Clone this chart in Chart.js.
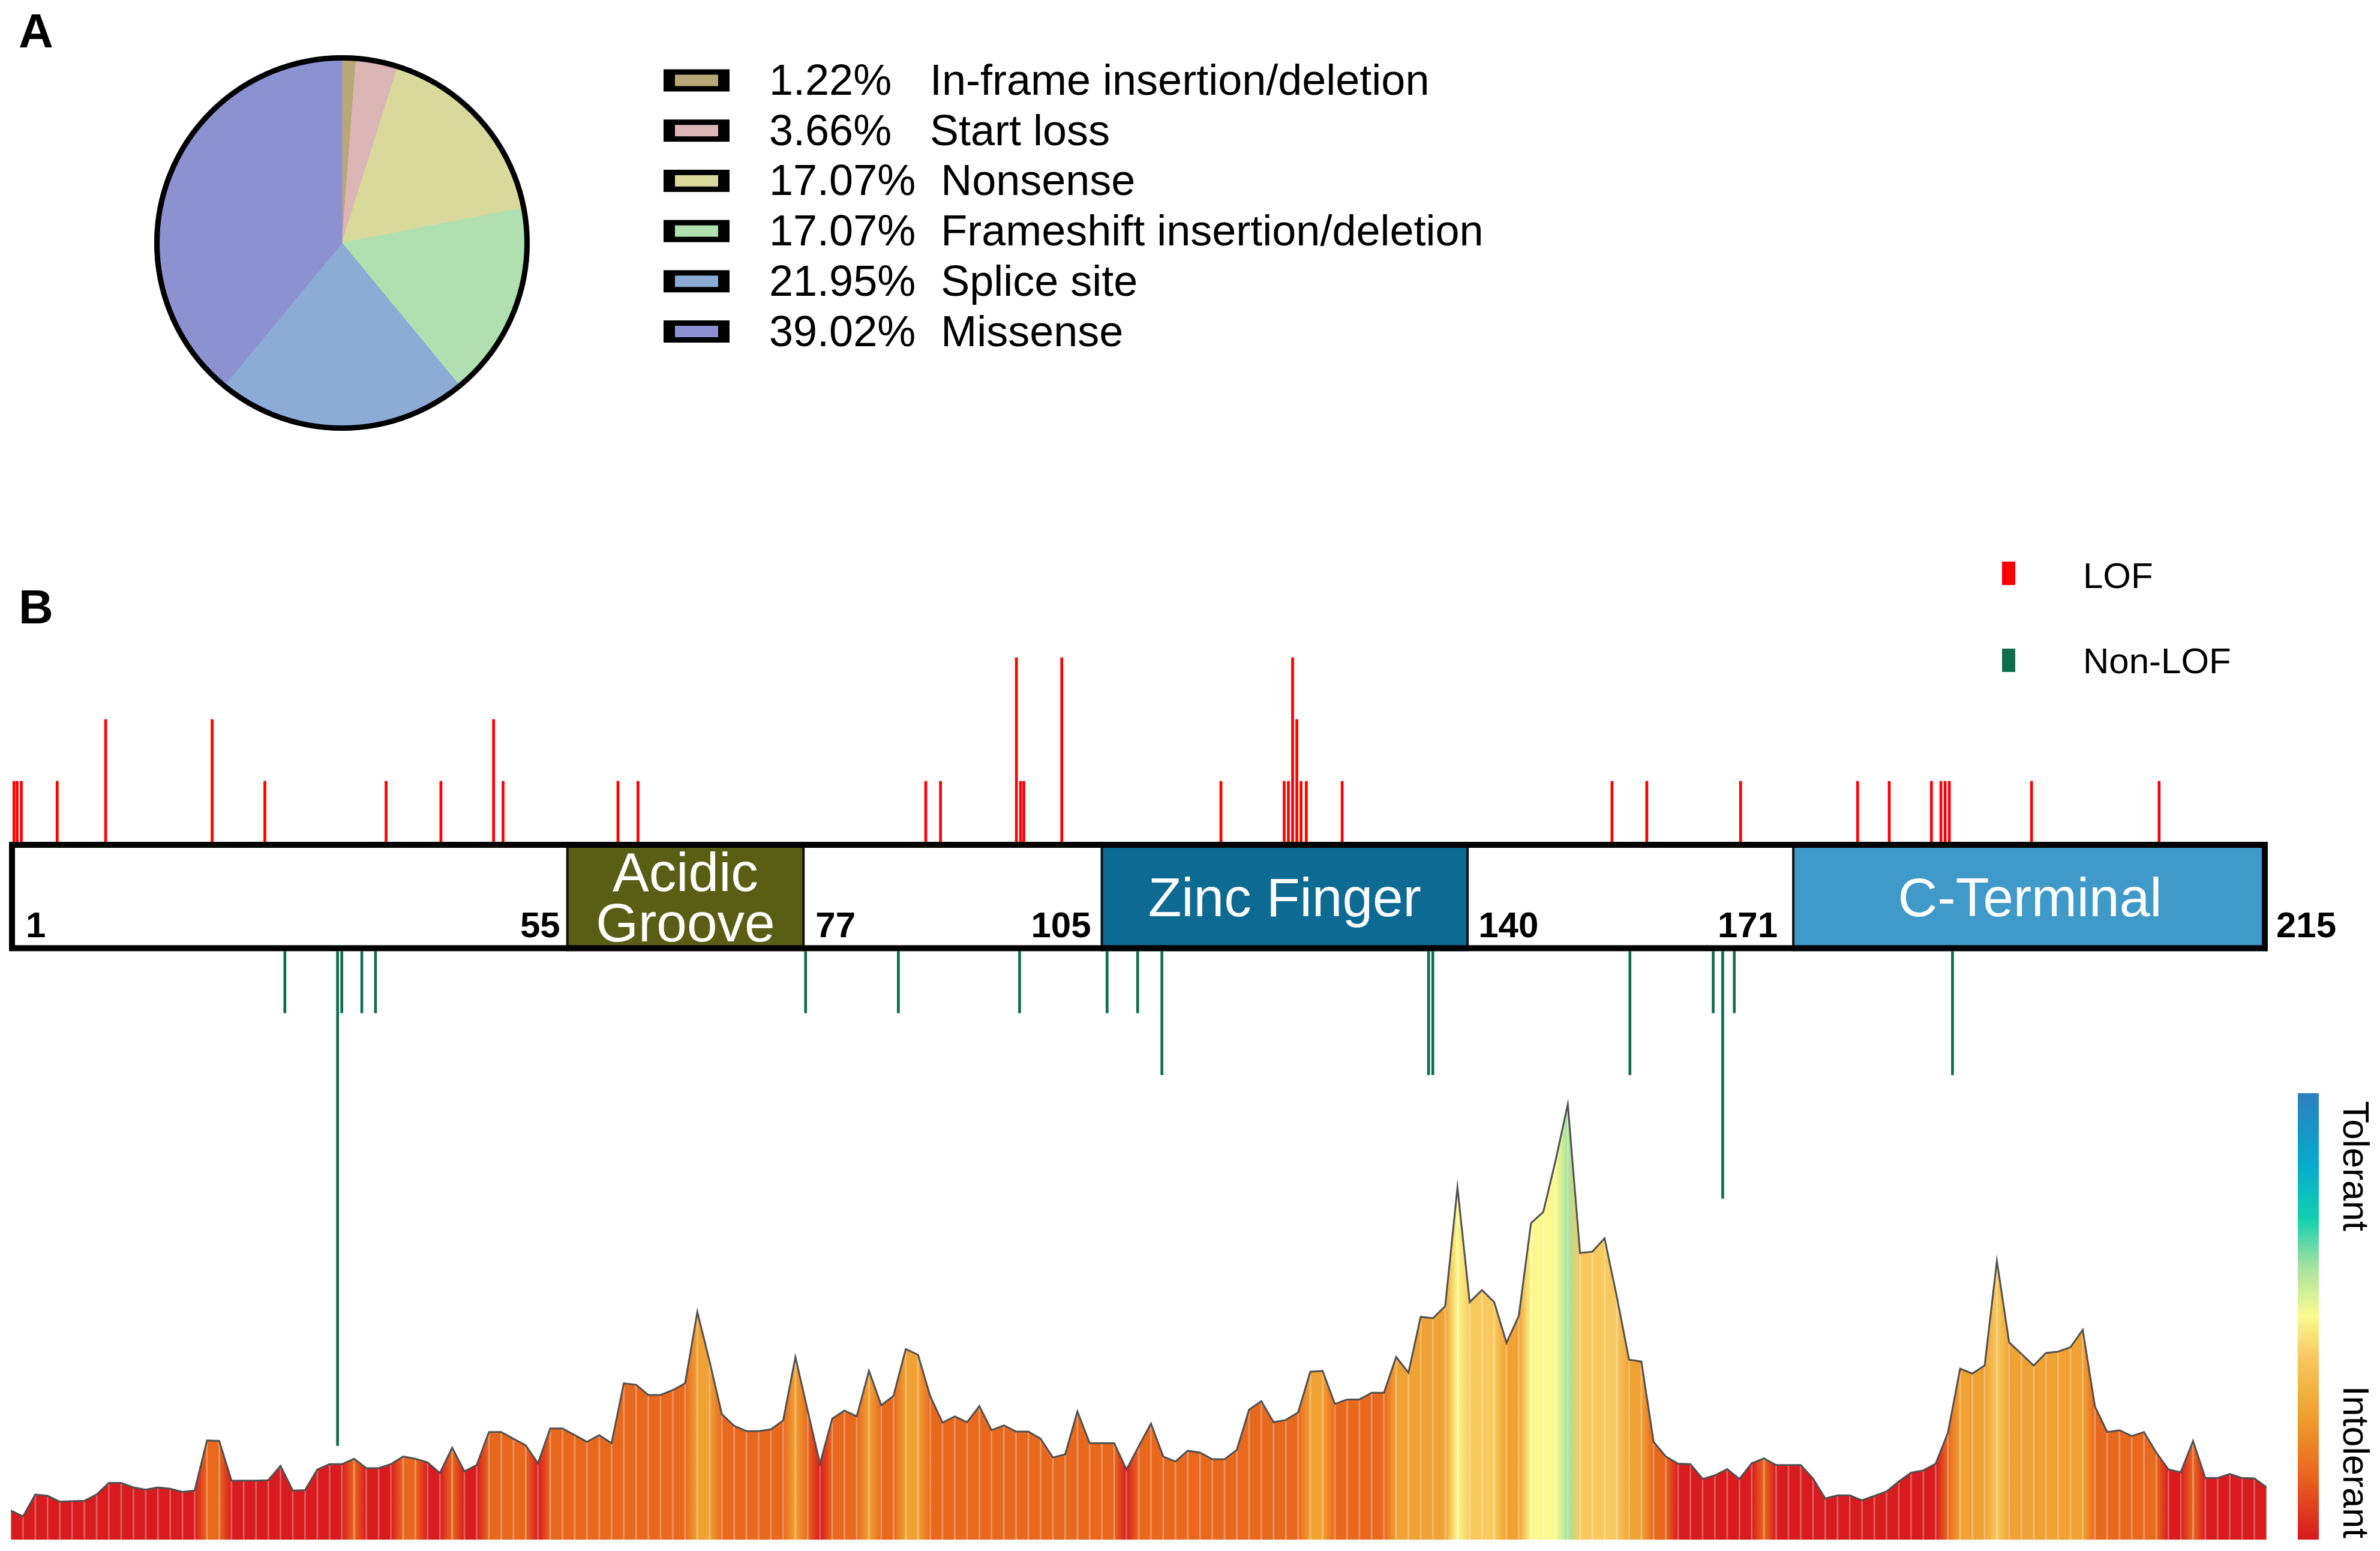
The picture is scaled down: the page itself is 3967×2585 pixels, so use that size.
<!DOCTYPE html>
<html lang="en">
<head>
<meta charset="utf-8">
<title>Variant spectrum and tolerance landscape</title>
<script src="https://cdn.jsdelivr.net/npm/chart.js@4.4.1/dist/chart.umd.min.js"></script>
<style>
  html, body { margin: 0; padding: 0; background: #fff; }
  #page { position: relative; width: 3967px; height: 2585px; overflow: hidden; background: #fff; }
  #page canvas { position: absolute; left: 0; }
  .panel-tag { position: absolute; left: 31px; font: bold 80px 'Liberation Sans', Arial, sans-serif; line-height: 80px; color: #000; }
</style>
</head>
<body>
<div id="page">
  <div class="panel-tag" style="top: 12px;">A</div>
  <div class="panel-tag" style="top: 972px;">B</div>
  <canvas id="pie" width="2600" height="760" style="top:0; width:2600px; height:760px;"></canvas>
  <canvas id="landscape" width="3967" height="785" style="top:1800px; width:3967px; height:785px;"></canvas>
  <canvas id="sites" width="3967" height="1575" style="top:890px; width:3967px; height:1575px;"></canvas>
</div>
<script>
/* ── data ─────────────────────────────────────────────────── */

/* panel A: variant classes */
const variantTypes = ['In-frame insertion/deletion', 'Start loss', 'Nonsense',
                      'Frameshift insertion/deletion', 'Splice site', 'Missense'];
const variantShare = [1.22, 3.66, 17.07, 17.07, 21.95, 39.02];

/* panel B: residue positions and number of variants per site */
const lofSites  = [1.3, 1.6, 2.0, 5.4, 10.0, 20.1, 25.1, 36.6, 41.8, 46.8,
                   47.7, 58.6, 60.5, 87.8, 89.2, 96.4, 96.8, 97.1, 100.7, 115.8,
                   121.8, 122.2, 122.6, 123.0, 123.4, 123.9, 127.3, 152.9, 156.2, 165.1,
                   176.2, 179.2, 183.2, 184.1, 184.5, 184.9, 192.7, 204.8];
const lofCounts = [1, 1, 1, 1, 2, 2, 1, 1, 1, 2,
                   1, 1, 1, 1, 1, 3, 1, 1, 3, 1,
                   1, 1, 3, 2, 1, 1, 1, 1, 1, 1,
                   1, 1, 1, 1, 1, 1, 1, 1];

const nonLofSites  = [27.0, 32.0, 32.4, 34.3, 35.6, 76.4, 85.2, 96.7, 105.0, 107.9,
                      110.2, 135.5, 135.9, 154.6, 162.5, 163.4, 164.5, 185.2];
const nonLofCounts = [1, 8, 1, 1, 1, 1, 1, 1, 1, 1,
                      2, 2, 2, 2, 1, 4, 1, 2];

/* protein domains (residues) */
const proteinStart = 1;
const proteinEnd   = 215;
const domainNames  = ['Acidic\nGroove', 'Zinc Finger', 'C-Terminal'];
const domainStart  = [53.8, 104.5, 170.1];
const domainEnd    = [76.2, 139.2, 215];
const siteTicks    = ['1', '55', '77', '105', '140', '171', '215'];

/* tolerance landscape, 185 evenly spaced windows along the protein */
const toleranceScores = [
   6.5,  5.2, 10.1,  9.8,  8.5,  8.6,  8.7, 10.1, 12.7, 12.7,
  11.7, 11.2, 11.7, 11.4, 10.7, 11.0, 22.2, 22.1, 13.2, 13.2,
  13.2, 13.3, 16.5, 11.0, 11.1, 15.7, 16.9, 16.9, 18.1, 16.0,
  16.0, 16.9, 18.6, 18.1, 17.3, 14.9, 20.6,
  15.3, 16.7, 24.1, 24.1, 22.6, 21.1, 17.1, 24.9, 24.9, 23.4,
  21.9, 23.4, 21.6, 35.0, 34.7, 32.4, 32.4, 33.5, 35.0, 51.0,
  39.9, 28.1, 25.5, 24.3, 24.3, 24.7, 26.7, 40.9, 28.9, 17.0,
  27.1, 28.9, 27.6, 37.8, 30.1, 32.2, 42.7,
  41.4, 32.1, 26.2, 27.6, 26.3, 29.9, 24.5, 25.6, 24.2, 24.2,
  22.6, 18.4, 19.1, 28.7, 21.6, 21.6, 21.6, 15.7, 20.9, 26.0,
  18.6, 17.5, 19.9, 19.5, 18.0, 18.0, 20.1, 29.1, 31.0, 26.3,
  26.8, 28.5, 37.6, 37.8, 30.4, 31.4, 31.4,
  32.9, 32.9, 40.9, 37.4, 49.9, 49.6, 52.3, 78.9, 53.2, 55.9,
  53.2, 44.1, 50.1, 70.9, 73.4, 84.9, 97.5, 64.2, 64.5, 67.5,
  54.4, 40.3, 39.9, 21.9, 18.6, 17.0, 16.9, 13.6, 14.4, 15.8,
  13.6, 17.1, 18.2, 16.7, 16.7, 16.7, 13.7,
   9.2,  9.9,  9.9,  8.8,  9.8, 10.8, 13.0, 15.0, 15.5, 17.0,
  23.9, 38.3, 37.2, 39.0, 62.4, 44.2, 41.6, 39.0, 41.8, 42.1,
  43.1, 47.0, 29.8, 24.1, 24.5, 23.2, 24.1, 19.5, 15.7, 15.1,
  22.1, 13.8, 13.8, 14.7, 13.8, 13.7, 11.7
];
const toleranceBreaks = [17.4, 36.5, 52.5, 68, 90];

/* ── styles ───────────────────────────────────────────────── */

const FONT = "'Liberation Sans', Arial, sans-serif";
const variantColours = ['#b8a878', '#dcb5b5', '#d9d99c', '#b0dfb0', '#8cabd5', '#8c91d0'];
const domainColours  = ['#5a5e14', '#0d6a93', '#3f99c9'];
const LOF_RED    = '#ff0000';
const NONLOF_GRN = '#0e6d4d';
const classColours = ['#d81b1e', '#e8691e', '#f1a234', '#f8c95e', '#fbf98e', '#a6e3a0'];
const barStops = [
  [0.00, '#d7191c'], [0.14, '#e8641e'], [0.28, '#f0a030'], [0.41, '#f8c860'],
  [0.50, '#fbfb8e'], [0.61, '#a6e3a0'], [0.72, '#12cfb0'], [0.84, '#08a9cf'], [1.00, '#2b7fc0']
];
const BAR_DEPTH = 1.75;   /* height of the protein bar, in site-count units */

Chart.defaults.font.family = FONT;

(function () {
    'use strict';

    /* ── helpers ─────────────────────────────────────────────── */

    function classColour(v) {
        let k = 0;
        while (k < toleranceBreaks.length && v >= toleranceBreaks[k]) k++;
        return classColours[k];
    }

    const common = {
        responsive: false,
        devicePixelRatio: 1,
        animation: false,
        events: []
    };

    /* ── panel A: pie ─────────────────────────────────────────── */

    const pieRim = {
        id: 'pieRim',
        afterDatasetsDraw(ch) {
            const arc = ch.getDatasetMeta(0).data[0];
            if (!arc) return;
            const { x, y, outerRadius } = arc.getProps(['x', 'y', 'outerRadius'], true);
            const ctx = ch.ctx;
            ctx.save();
            ctx.beginPath();
            ctx.arc(x, y, outerRadius - 4, 0, Math.PI * 2);
            ctx.lineWidth = 9;
            ctx.strokeStyle = '#000';
            ctx.stroke();
            ctx.restore();
        }
    };

    const pieLegend = {
        id: 'pieLegend',
        afterDraw(ch) {
            const ctx = ch.ctx;
            ctx.save();
            ctx.font = `72px ${FONT}`;
            ctx.textBaseline = 'alphabetic';
            ctx.textAlign = 'left';
            variantShare.forEach((pct, i) => {
                const cy = 134 + i * 83.7;
                ctx.fillStyle = '#000';
                ctx.fillRect(1106, cy - 18.5, 110, 37);
                ctx.fillStyle = variantColours[i];
                ctx.fillRect(1106 + 19, cy - 9.5, 110 - 38, 19);
                ctx.fillStyle = '#000';
                const txt = `${pct.toFixed(2)}%`;
                ctx.fillText(txt, 1282, cy + 24);
                const w = ctx.measureText(txt).width;
                ctx.fillText(variantTypes[i], Math.max(1550, 1282 + w + 42), cy + 24);
            });
            ctx.restore();
        }
    };

    new Chart(document.getElementById('pie'), {
        type: 'pie',
        data: {
            labels: variantTypes,
            datasets: [{
                data: variantShare,
                backgroundColor: variantColours,
                borderColor: variantColours,
                borderWidth: 1
            }]
        },
        options: {
            ...common,
            layout: { padding: { left: 257, right: 1717, top: 92, bottom: 42 } },
            plugins: { legend: { display: false }, tooltip: { enabled: false } }
        },
        plugins: [pieRim, pieLegend]
    });

    /* ── panel B: variant sites on the protein ───────────────── */

    const proteinBar = {
        id: 'proteinBar',
        afterDatasetsDraw(ch) {
            const { ctx, scales: { x, y } } = ch;
            const left   = x.getPixelForValue(proteinStart) - 3;
            const right  = x.getPixelForValue(proteinEnd) + 2;
            const top    = y.getPixelForValue(0) - 2;
            const bottom = y.getPixelForValue(-BAR_DEPTH);
            const mid    = (top + bottom) / 2;

            ctx.save();
            ctx.fillStyle = '#fff';
            ctx.fillRect(left, top, right - left, bottom - top);

            const edges = [];
            domainNames.forEach((name, i) => {
                const x0 = x.getPixelForValue(domainStart[i]);
                const x1 = Math.min(x.getPixelForValue(domainEnd[i]), right);
                edges.push(x0, x1);
                ctx.fillStyle = domainColours[i];
                ctx.fillRect(x0, top, x1 - x0, bottom - top);

                ctx.fillStyle = '#fff';
                ctx.font = `91px ${FONT}`;
                ctx.textAlign = 'center';
                ctx.textBaseline = 'alphabetic';
                const lines = name.split('\n');
                lines.forEach((ln, j) => {
                    const by = mid + 33 + (j - (lines.length - 1) / 2) * 84;
                    ctx.fillText(ln, (x0 + x1) / 2, by);
                });
            });

            ctx.strokeStyle = '#111';
            ctx.lineWidth = 4;
            ctx.beginPath();
            edges.forEach(ex => { ctx.moveTo(ex, top); ctx.lineTo(ex, bottom); });
            ctx.stroke();

            ctx.strokeStyle = '#000';
            ctx.lineWidth = 10;
            ctx.strokeRect(left + 5, top + 5, right - left - 10, bottom - top - 10);

            /* residue numbers at the borders of each region */
            const slots = [
                [left + 28, 'left'],
                [x.getPixelForValue(domainStart[0]) - 12, 'right'],
                [x.getPixelForValue(domainEnd[0]) + 20, 'left'],
                [x.getPixelForValue(domainStart[1]) - 18, 'right'],
                [x.getPixelForValue(domainEnd[1]) + 18, 'left'],
                [x.getPixelForValue(domainStart[2]) - 26, 'right'],
                [right + 14, 'left']
            ];
            ctx.fillStyle = '#000';
            ctx.font = `bold 60px ${FONT}`;
            siteTicks.forEach((t, i) => {
                ctx.textAlign = slots[i][1];
                ctx.fillText(t, slots[i][0], bottom - 23);
            });
            ctx.restore();
        }
    };

    const siteLegend = {
        id: 'siteLegend',
        afterDraw(ch) {
            const ctx = ch.ctx;
            const items = [['LOF', LOF_RED, 46, 90], ['Non-LOF', NONLOF_GRN, 191, 232]];
            ctx.save();
            ctx.font = `60px ${FONT}`;
            ctx.textAlign = 'left';
            ctx.textBaseline = 'alphabetic';
            items.forEach(([txt, col, markTop, base]) => {
                ctx.fillStyle = col;
                ctx.fillRect(3337, markTop, 22, 39);
                ctx.fillStyle = '#000';
                ctx.fillText(txt, 3472, base);
            });
            ctx.restore();
        }
    };

    new Chart(document.getElementById('sites'), {
        type: 'bar',
        data: {
            datasets: [
                {
                    label: 'LOF',
                    data: lofSites.map((p, i) => ({ x: p, y: [0, lofCounts[i]] })),
                    backgroundColor: LOF_RED,
                    barThickness: 4,
                    grouped: false
                },
                {
                    label: 'Non-LOF',
                    data: nonLofSites.map((p, i) => ({ x: p, y: [-BAR_DEPTH + 0.02, -BAR_DEPTH - nonLofCounts[i]] })),
                    backgroundColor: NONLOF_GRN,
                    barThickness: 4,
                    grouped: false
                }
            ]
        },
        options: {
            ...common,
            layout: { padding: { left: 18, right: 189, top: 0, bottom: 0 } },
            scales: {
                x: { type: 'linear', min: proteinStart, max: proteinEnd, offset: false, display: false },
                y: { min: -10.29, max: 5, display: false }
            },
            plugins: { legend: { display: false }, tooltip: { enabled: false } }
        },
        plugins: [proteinBar, siteLegend]
    });

    /* ── panel B: tolerance landscape ────────────────────────── */

    function profileFill(context) {
        const ch = context.chart;
        const { ctx, chartArea, scales } = ch;
        if (!chartArea || !scales.x) return classColours[0];
        const w = chartArea.right - chartArea.left;
        const g = ctx.createLinearGradient(chartArea.left, 0, chartArea.right, 0);
        toleranceScores.forEach((v, i) => {
            const t = (scales.x.getPixelForValue(i) - chartArea.left) / w;
            g.addColorStop(Math.min(1, Math.max(0, t)), classColour(v));
        });
        return g;
    }

    const colourBar = {
        id: 'colourBar',
        afterDraw(ch) {
            const { ctx, chartArea } = ch;
            const x0 = chartArea.right + 52;
            const g = ctx.createLinearGradient(0, chartArea.bottom, 0, chartArea.top);
            barStops.forEach(([t, c]) => g.addColorStop(t, c));
            ctx.save();
            ctx.fillStyle = g;
            ctx.fillRect(x0, chartArea.top, 35, chartArea.bottom - chartArea.top);

            ctx.fillStyle = '#000';
            ctx.font = `61px ${FONT}`;
            ctx.textBaseline = 'alphabetic';

            ctx.save();
            ctx.translate(chartArea.right + 128, chartArea.top + 13);
            ctx.rotate(Math.PI / 2);
            ctx.textAlign = 'left';
            ctx.fillText('Tolerant', 0, 0);
            ctx.restore();

            ctx.save();
            ctx.translate(chartArea.right + 128, chartArea.bottom - 2);
            ctx.rotate(Math.PI / 2);
            ctx.textAlign = 'right';
            ctx.fillText('Intolerant', 0, 0);
            ctx.restore();

            ctx.restore();
        }
    };

    const profilePts = toleranceScores.map((v, i) => ({ x: i, y: v }));

    new Chart(document.getElementById('landscape'), {
        type: 'line',
        data: {
            datasets: [
                {
                    type: 'line',
                    data: profilePts,
                    borderColor: '#505050',
                    borderWidth: 3,
                    pointRadius: 0,
                    tension: 0,
                    fill: 'origin',
                    backgroundColor: profileFill,
                    order: 0
                },
                {
                    type: 'bar',
                    data: profilePts,
                    backgroundColor: 'rgba(255,255,255,0.3)',
                    barThickness: 2,
                    order: 1
                }
            ]
        },
        options: {
            ...common,
            layout: { padding: { left: 18, right: 189, top: 22, bottom: 19 } },
            scales: {
                x: { type: 'linear', min: 0, max: toleranceScores.length - 1, offset: false, display: false },
                y: { min: 0, max: 100, display: false }
            },
            plugins: {
                legend: { display: false },
                tooltip: { enabled: false },
                filler: { drawTime: 'beforeDatasetsDraw' }
            }
        },
        plugins: [colourBar]
    });
})();
</script>
</body>
</html>
